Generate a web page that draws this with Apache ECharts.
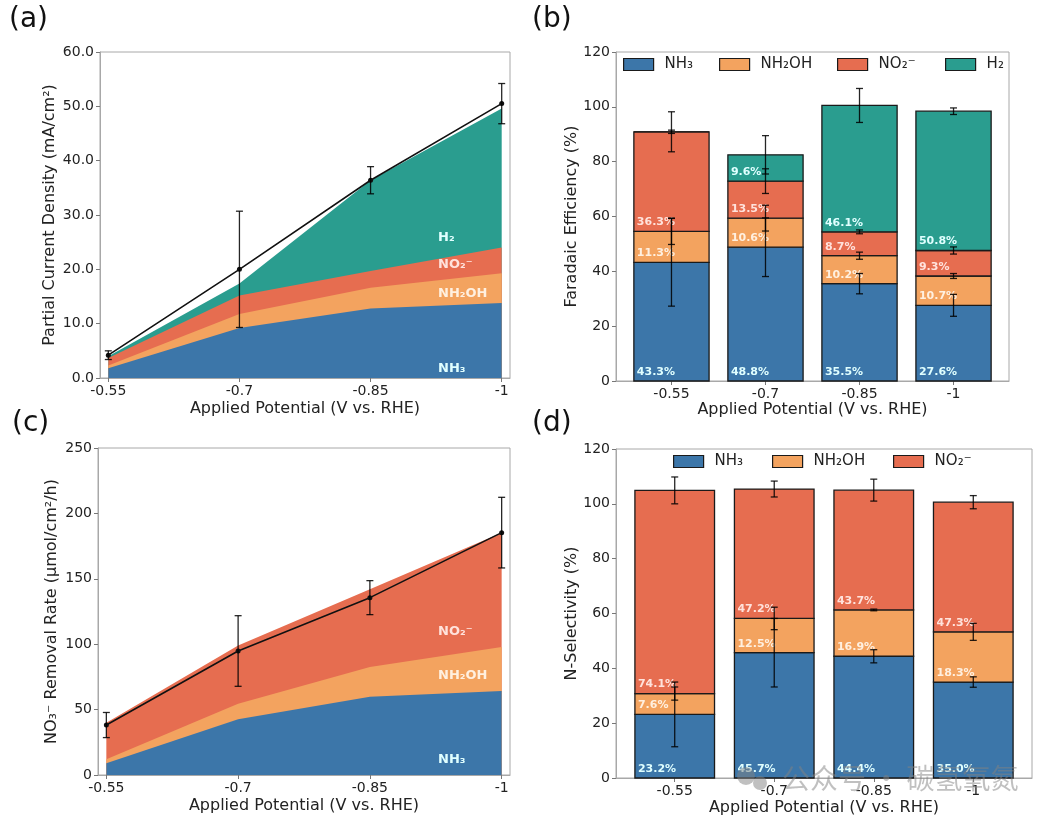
<!DOCTYPE html>
<html>
<head>
<meta charset="utf-8">
<script src="https://cdn.jsdelivr.net/npm/echarts@6/dist/echarts.min.js"></script>
<style>
html, body { margin: 0; padding: 0; background: #fff; }
#main { width: 1046px; height: 822px; }
</style>
</head>
<body>
<div id="main"></div>
<script>
// x positions
var potentials = [-0.55, -0.7, -0.85, -1];
var potLabels = ['-0.55', '-0.7', '-0.85', '-1'];
var barPos = [0, 1, 2, 3];

// (a) partial current density, mA/cm2
var jNH3 = [1.8, 9.2, 12.8, 13.8];
var jNH2OH = [0.5, 2.6, 3.8, 5.5];
var jNO2 = [1.4, 3.4, 3.1, 4.7];
var jH2 = [0.3, 2.2, 16.7, 25.6];
var jTotal = [4.2, 20.0, 36.4, 50.5];
var jTotalErr = [0.8, 10.7, 2.5, 3.7];

// (b) faradaic efficiency, %
var feNH3 = [43.3, 48.8, 35.5, 27.6];
var feNH2OH = [11.3, 10.6, 10.2, 10.7];
var feNO2 = [36.3, 13.5, 8.7, 9.3];
var feH2 = [0, 9.6, 46.1, 50.8];
var feErrNH3 = [16, 10.7, 3.7, 4];
var feErrNH2OH = [4.8, 4.7, 1.3, 0.9];
var feErrNO2 = [7.3, 4.5, 0.7, 1.3];
var feErrH2 = [0.6, 7, 6.2, 1.2];

// (c) NO3- removal rate, umol/cm2/h
var rNH3 = [8.9, 42.6, 59.9, 64.2];
var rNH2OH = [3.1, 11.9, 22.7, 33.7];
var rNO2 = [28.0, 44.6, 59.4, 87.4];
var rTotal = [38.2, 94.8, 135.6, 185.3];
var rTotalErr = [9.6, 27, 13, 27];

// (d) N-selectivity, %
var selNH3 = [23.2, 45.7, 44.4, 35.0];
var selNH2OH = [7.6, 12.5, 16.9, 18.3];
var selNO2 = [74.1, 47.2, 43.7, 47.3];
var selErrNH3 = [11.8, 12.5, 2.4, 1.9];
var selErrNH2OH = [2.4, 4.1, 0.3, 3.1];
var selErrNO2 = [4.9, 2.9, 4, 2.4];

var cNH3 = '#3c76a9', cNH2OH = '#f3a35f', cNO2 = '#e66d50', cH2 = '#2a9d8f';
var lbNH3 = '#e0ffff', lbNH2OH = '#fff0e0', lbNO2 = '#ffe2dc', lbH2 = '#e0ffff';
var FONT = 'DejaVu Sans';
var frameColor = '#a8a8a8';

function cumulate(list) {
    var out = [], run = [0, 0, 0, 0];
    list.forEach(function (arr) {
        run = run.map(function (v, i) { return v + arr[i]; });
        out.push(run.slice());
    });
    return out;
}

var chart = echarts.init(document.getElementById('main'));

function xValueAxis(gi) {
    return {
        gridIndex: gi, type: 'value', inverse: true, min: -1.0095, max: -0.5405,
        axisLine: { onZero: false, lineStyle: { color: frameColor } },
        axisTick: { customValues: potentials, length: 4, lineStyle: { color: '#777' } },
        axisLabel: {
            customValues: potentials, color: '#222', fontSize: 14, fontFamily: FONT, margin: 6,
            formatter: function (v) { var k = potentials.indexOf(v); return k >= 0 ? potLabels[k] : String(v); }
        },
        splitLine: { show: false },
        name: 'Applied Potential (V vs. RHE)', nameLocation: 'middle', nameGap: 23,
        nameTextStyle: { color: '#222', fontSize: 16, fontFamily: FONT }
    };
}
function xBarAxis(gi, gap) {
    return {
        gridIndex: gi, type: 'value', min: -0.59, max: 3.59,
        axisLine: { onZero: false, lineStyle: { color: frameColor } },
        axisTick: { customValues: barPos, length: 4, lineStyle: { color: '#777' } },
        axisLabel: {
            customValues: barPos, color: '#222', fontSize: 14, fontFamily: FONT, margin: 6,
            formatter: function (v) { return potLabels[v]; }
        },
        splitLine: { show: false },
        name: 'Applied Potential (V vs. RHE)', nameLocation: 'middle', nameGap: gap,
        nameTextStyle: { color: '#222', fontSize: 16, fontFamily: FONT }
    };
}
function yAxis(gi, max, interval, name, gap, fmt) {
    return {
        gridIndex: gi, type: 'value', min: 0, max: max, interval: interval,
        axisLine: { show: true, onZero: false, lineStyle: { color: frameColor } },
        axisTick: { show: true, length: 4, lineStyle: { color: '#777' } },
        axisLabel: { color: '#222', fontSize: 14, fontFamily: FONT, margin: 6, formatter: fmt },
        splitLine: { show: false },
        name: name, nameLocation: 'middle', nameGap: gap,
        nameTextStyle: { color: '#222', fontSize: 16, fontFamily: FONT }
    };
}

function areaSeries(name, gi, vals, color) {
    return {
        name: name, type: 'line', xAxisIndex: gi, yAxisIndex: gi,
        data: potentials.map(function (p, i) { return [p, vals[i]]; }),
        symbol: 'none', lineStyle: { width: 0 }, itemStyle: { color: color },
        areaStyle: { color: color, opacity: 1 }, silent: true
    };
}
function totalLine(gi, vals) {
    return {
        name: 'total' + gi, type: 'line', xAxisIndex: gi, yAxisIndex: gi,
        data: potentials.map(function (p, i) { return [p, vals[i]]; }),
        symbol: 'circle', symbolSize: 5, itemStyle: { color: '#111' },
        lineStyle: { color: '#111', width: 1.6 }, z: 4, silent: true
    };
}
function errSeries(gi, xs, centers, errs) {
    return {
        type: 'custom', xAxisIndex: gi, yAxisIndex: gi, z: 6, silent: true,
        data: xs.map(function (x, i) { return [x, centers[i], errs[i]]; }),
        renderItem: function (params, api) {
            var x = api.value(0), c = api.value(1), e = api.value(2);
            var t = api.coord([x, c + e]), b = api.coord([x, c - e]);
            var w = 3.5;
            var st = { stroke: 'rgba(0,0,0,0.85)', lineWidth: 1.3 };
            return {
                type: 'group', children: [
                    { type: 'line', shape: { x1: t[0], y1: t[1], x2: b[0], y2: b[1] }, style: st },
                    { type: 'line', shape: { x1: t[0] - w, y1: t[1], x2: t[0] + w, y2: t[1] }, style: st },
                    { type: 'line', shape: { x1: b[0] - w, y1: b[1], x2: b[0] + w, y2: b[1] }, style: st }
                ]
            };
        }
    };
}
function segSeries(name, gi, lows, highs, vals, color, labelColor) {
    return {
        name: name, type: 'custom', xAxisIndex: gi, yAxisIndex: gi, silent: true,
        itemStyle: { color: color },
        data: barPos.map(function (x, i) { return [x, lows[i], highs[i], vals[i]]; }),
        renderItem: function (params, api) {
            var x = api.value(0), lo = api.value(1), hi = api.value(2), v = api.value(3);
            var p0 = api.coord([x - 0.4, lo]), p1 = api.coord([x + 0.4, hi]);
            var kids = [{
                type: 'rect',
                shape: { x: p0[0], y: p1[1], width: p1[0] - p0[0], height: p0[1] - p1[1] },
                style: { fill: color, stroke: '#1a1a1a', lineWidth: 1.3 }
            }];
            if (v > 0) {
                kids.push({
                    type: 'text', x: p0[0] + 3, y: p0[1] - 9, z2: 10,
                    style: { text: v.toFixed(1) + '%', fill: labelColor, font: 'bold 11px "DejaVu Sans"', verticalAlign: 'middle' }
                });
            }
            return { type: 'group', children: kids };
        }
    };
}

var aCum = cumulate([jNH3, jNH2OH, jNO2, jH2]);
var bCum = cumulate([feNH3, feNH2OH, feNO2, feH2]);
var cCum = cumulate([rNH3, rNH2OH, rNO2]);
var dCum = cumulate([selNH3, selNH2OH, selNO2]);
var zeros = [0, 0, 0, 0];

function legendItem(name, left, top) {
    return {
        data: [name], left: left, top: top, icon: 'rect', itemWidth: 30, itemHeight: 12,
        selectedMode: false, padding: 0,
        itemStyle: { borderColor: '#1a1a1a', borderWidth: 1.2 },
        textStyle: { color: '#222', fontSize: 15, fontFamily: FONT, padding: [0, 0, 0, 6] }
    };
}

function txt(text, left, y, color, size, weight) {
    return {
        type: 'text', left: left, top: y - size * 0.6, z: 100, silent: true,
        style: { text: text, fill: color, font: (weight || 'normal') + ' ' + size + 'px "DejaVu Sans"' }
    };
}

var wmGray = 'rgba(130,130,130,0.5)';

var option = {
    animation: false,
    backgroundColor: '#fff',
    grid: [
        { left: 100, top: 52, width: 410, height: 326, show: true, borderColor: frameColor, borderWidth: 1 },
        { left: 616, top: 52, width: 393, height: 329, show: true, borderColor: frameColor, borderWidth: 1 },
        { left: 98, top: 448, width: 412, height: 327, show: true, borderColor: frameColor, borderWidth: 1 },
        { left: 616, top: 449, width: 416, height: 329, show: true, borderColor: frameColor, borderWidth: 1 }
    ],
    xAxis: [xValueAxis(0), xBarAxis(1, 21), xValueAxis(2), xBarAxis(3, 22)],
    yAxis: [
        yAxis(0, 60, 10, 'Partial Current Density (mA/cm²)', 42, function (v) { return v.toFixed(1); }),
        yAxis(1, 120, 20, 'Faradaic Efficiency (%)', 35),
        yAxis(2, 250, 50, 'NO₃⁻ Removal Rate (μmol/cm²/h)', 38),
        yAxis(3, 120, 20, 'N-Selectivity (%)', 36)
    ],
    legend: [
        legendItem('NH₃', 623, 57), legendItem('NH₂OH', 719, 57),
        legendItem('NO₂⁻', 837, 57), legendItem('H₂', 945, 57),
        legendItem('NH₃', 673, 454), legendItem('NH₂OH', 772, 454), legendItem('NO₂⁻', 893, 454)
    ],
    series: [
        // (a)
        areaSeries('a-H2', 0, aCum[3], cH2),
        areaSeries('a-NO2', 0, aCum[2], cNO2),
        areaSeries('a-NH2OH', 0, aCum[1], cNH2OH),
        areaSeries('a-NH3', 0, aCum[0], cNH3),
        totalLine(0, jTotal),
        errSeries(0, potentials, jTotal, jTotalErr),
        // (b)
        segSeries('NH₃', 1, zeros, bCum[0], feNH3, cNH3, lbNH3),
        segSeries('NH₂OH', 1, bCum[0], bCum[1], feNH2OH, cNH2OH, lbNH2OH),
        segSeries('NO₂⁻', 1, bCum[1], bCum[2], feNO2, cNO2, lbNO2),
        segSeries('H₂', 1, bCum[2], bCum[3], feH2, cH2, lbH2),
        errSeries(1, barPos, bCum[0], feErrNH3),
        errSeries(1, barPos, bCum[1], feErrNH2OH),
        errSeries(1, barPos, bCum[2], feErrNO2),
        errSeries(1, barPos, bCum[3], feErrH2),
        // (c)
        areaSeries('c-NO2', 2, cCum[2], cNO2),
        areaSeries('c-NH2OH', 2, cCum[1], cNH2OH),
        areaSeries('c-NH3', 2, cCum[0], cNH3),
        totalLine(2, rTotal),
        errSeries(2, potentials, rTotal, rTotalErr),
        // (d)
        segSeries('NH₃', 3, zeros, dCum[0], selNH3, cNH3, lbNH3),
        segSeries('NH₂OH', 3, dCum[0], dCum[1], selNH2OH, cNH2OH, lbNH2OH),
        segSeries('NO₂⁻', 3, dCum[1], dCum[2], selNO2, cNO2, lbNO2),
        errSeries(3, barPos, dCum[0], selErrNH3),
        errSeries(3, barPos, dCum[1], selErrNH2OH),
        errSeries(3, barPos, dCum[2], selErrNO2)
    ],
    graphic: [
        txt('(a)', 9, 23, '#111', 28),
        txt('(b)', 532, 23, '#111', 28),
        txt('(c)', 12, 427, '#111', 28),
        txt('(d)', 532, 427, '#111', 28),
        txt('H₂', 438, 239, lbH2, 13, 'bold'),
        txt('NO₂⁻', 438, 266, lbNO2, 13, 'bold'),
        txt('NH₂OH', 438, 295, lbNH2OH, 13, 'bold'),
        txt('NH₃', 438, 370, lbNH3, 13, 'bold'),
        txt('NO₂⁻', 438, 633, lbNO2, 13, 'bold'),
        txt('NH₂OH', 438, 677, lbNH2OH, 13, 'bold'),
        txt('NH₃', 438, 761, lbNH3, 13, 'bold'),
        { type: 'circle', shape: { cx: 746, cy: 776, r: 9 }, style: { fill: wmGray }, z: 120, silent: true },
        { type: 'circle', shape: { cx: 760, cy: 783, r: 7 }, style: { fill: wmGray }, z: 120, silent: true },
        {
            type: 'text', left: 782, top: 764, z: 120, silent: true,
            style: { text: '公众号 · 碳氢氧氮', fill: wmGray, font: '28px "Noto Sans CJK SC"' }
        }
    ]
};

chart.setOption(option);
</script>
</body>
</html>
